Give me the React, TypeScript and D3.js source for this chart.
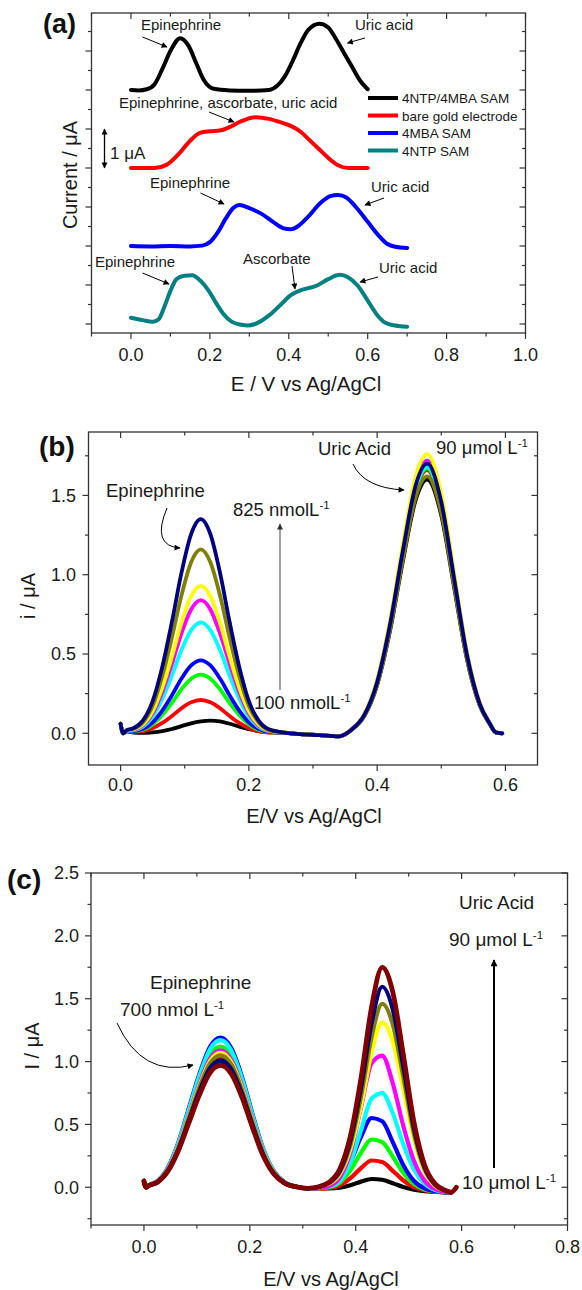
import React from 'react';
import * as d3 from 'd3';

const FONT = "'Liberation Sans', Arial, Helvetica, sans-serif";
const AXIS = '#333';
const TXT = '#1a1a1a';

// ---------------- Panel (a) data ----------------
const aLegend = ['4NTP/4MBA SAM', 'bare gold electrode', '4MBA SAM', '4NTP SAM'];
const aColors = ['#000000', '#ff0000', '#0000ff', '#008080'];
const aBlack: [number, number][] = [[0,6.0],[0.02,5.99],[0.04,6.02],[0.06,6.15],[0.08,6.55],[0.1,7.0],[0.125,7.33],[0.145,7.15],[0.165,6.7],[0.185,6.25],[0.21,6.03],[0.25,5.99],[0.3,5.98],[0.35,6.0],[0.37,6.1],[0.39,6.35],[0.41,6.75],[0.43,7.2],[0.45,7.55],[0.478,7.7],[0.5,7.6],[0.52,7.3],[0.54,6.95],[0.56,6.6],[0.58,6.25],[0.6,6.02]];
const aRed: [number, number][] = [[0,4.0],[0.06,4.0],[0.09,4.08],[0.12,4.35],[0.15,4.7],[0.175,4.9],[0.2,4.94],[0.225,4.96],[0.25,5.05],[0.28,5.2],[0.315,5.3],[0.35,5.26],[0.38,5.17],[0.405,5.08],[0.43,4.93],[0.45,4.74],[0.475,4.5],[0.5,4.26],[0.525,4.07],[0.55,4.0],[0.6,4.0]];
const aBlue: [number, number][] = [[0,2.0],[0.05,1.99],[0.1,2.0],[0.15,1.99],[0.18,2.01],[0.2,2.1],[0.22,2.35],[0.24,2.7],[0.26,2.98],[0.275,3.05],[0.3,2.97],[0.33,2.83],[0.36,2.62],[0.385,2.46],[0.405,2.43],[0.425,2.52],[0.45,2.76],[0.48,3.1],[0.505,3.28],[0.525,3.31],[0.545,3.25],[0.57,3.0],[0.6,2.62],[0.625,2.3],[0.65,2.05],[0.67,1.98],[0.7,1.95]];
const aTeal: [number, number][] = [[0,0.16],[0.03,0.1],[0.055,0.06],[0.07,0.12],[0.085,0.45],[0.1,0.85],[0.115,1.15],[0.135,1.24],[0.155,1.25],[0.175,1.12],[0.195,0.88],[0.215,0.55],[0.235,0.25],[0.255,0.06],[0.28,-0.02],[0.295,-0.04],[0.315,0.0],[0.35,0.22],[0.38,0.5],[0.405,0.74],[0.435,0.88],[0.47,0.98],[0.5,1.15],[0.53,1.26],[0.55,1.2],[0.575,0.98],[0.6,0.6],[0.625,0.22],[0.645,0.03],[0.67,-0.04],[0.7,-0.07]];
const aXMajor = [0, 0.2, 0.4, 0.6, 0.8, 1.0];
const aXMinor = [-0.1, 0.1, 0.3, 0.5, 0.7, 0.9];
const aYMajor = [0, 1, 2, 3, 4, 5, 6, 7];
const aYMinor = [0.5, 1.5, 2.5, 3.5, 4.5, 5.5, 6.5, 7.5];

// ---------------- Panel (b) data ----------------
const bX = [0,0.004,0.01,0.02,0.035,0.05,0.065,0.08,0.095,0.11,0.125,0.14,0.155,0.17,0.185,0.2,0.215,0.23,0.25,0.28,0.31,0.34,0.36,0.38,0.40,0.42,0.44,0.46,0.478,0.50,0.52,0.54,0.56,0.575,0.585,0.595];
const bBlack = [0.06,0,0.01,0.005,0.002,0.006,0.014,0.027,0.045,0.063,0.075,0.08,0.075,0.06,0.042,0.026,0.014,0.007,0.004,-0.005,-0.012,-0.02,0.021,0.108,0.304,0.644,1.082,1.47,1.6,1.373,0.92,0.466,0.174,0.061,0.004,0];
const bRed = [0.06,0,0.012,0.009,0.013,0.032,0.065,0.109,0.158,0.195,0.21,0.195,0.158,0.109,0.065,0.032,0.013,0.004,0.004,-0.005,-0.012,-0.02,0.022,0.113,0.316,0.669,1.122,1.526,1.66,1.425,0.954,0.484,0.182,0.064,0.005,0];
const bGreen = [0.06,0,0.013,0.012,0.022,0.056,0.115,0.192,0.278,0.344,0.37,0.344,0.278,0.192,0.115,0.056,0.022,0.007,0.004,-0.005,-0.012,-0.02,0.022,0.114,0.318,0.673,1.129,1.535,1.67,1.433,0.96,0.487,0.183,0.065,0.005,0];
const bBlue = [0.06,0,0.014,0.014,0.028,0.069,0.143,0.239,0.345,0.428,0.46,0.428,0.345,0.239,0.143,0.069,0.028,0.009,0.005,-0.005,-0.012,-0.02,0.023,0.116,0.324,0.685,1.15,1.562,1.7,1.459,0.978,0.496,0.186,0.066,0.006,0];
const bCyan = [0.06,0,0.016,0.019,0.042,0.105,0.217,0.364,0.525,0.651,0.7,0.651,0.525,0.364,0.217,0.105,0.042,0.014,0.006,-0.005,-0.012,-0.02,0.023,0.114,0.32,0.677,1.136,1.544,1.68,1.442,0.966,0.49,0.184,0.065,0.006,0];
const bMagenta = [0.06,0,0.017,0.022,0.05,0.126,0.26,0.437,0.63,0.781,0.84,0.781,0.63,0.437,0.26,0.126,0.05,0.017,0.006,-0.005,-0.012,-0.02,0.024,0.117,0.328,0.693,1.163,1.581,1.72,1.476,0.989,0.502,0.189,0.067,0.006,0];
const bYellow = [0.06,0,0.017,0.024,0.056,0.14,0.288,0.484,0.698,0.865,0.93,0.865,0.698,0.484,0.288,0.14,0.056,0.019,0.007,-0.005,-0.012,-0.02,0.025,0.121,0.336,0.71,1.19,1.618,1.76,1.511,1.012,0.514,0.194,0.069,0.007,0];
const bOlive = [0.06,0,0.019,0.028,0.07,0.174,0.36,0.603,0.87,1.079,1.16,1.079,0.87,0.603,0.36,0.174,0.07,0.023,0.008,-0.005,-0.012,-0.02,0.021,0.11,0.308,0.652,1.095,1.489,1.62,1.39,0.931,0.472,0.177,0.062,0.005,0];
const bNavy = [0.06,0,0.021,0.032,0.081,0.203,0.419,0.702,1.013,1.256,1.35,1.256,1.013,0.702,0.419,0.203,0.081,0.027,0.008,-0.005,-0.012,-0.02,0.023,0.116,0.324,0.685,1.15,1.562,1.7,1.459,0.978,0.496,0.186,0.066,0.006,0];
const bSeries = [bBlack, bRed, bGreen, bBlue, bCyan, bMagenta, bYellow, bOlive, bNavy];
const bColors = ['#000000', '#ff0000', '#00ff00', '#0000ff', '#00ffff', '#ff00ff', '#ffff00', '#808000', '#000080'];
const bXMajor = [0, 0.2, 0.4, 0.6];
const bXMinor = [0.1, 0.3, 0.5];
const bYMajor = [0, 0.5, 1.0, 1.5];
const bYMinor = [0.25, 0.75, 1.25, 1.75];

// ---------------- Panel (c) data ----------------
const cX = [0,0.004,0.01,0.025,0.045,0.065,0.085,0.105,0.125,0.145,0.165,0.185,0.205,0.225,0.245,0.265,0.29,0.31,0.33,0.35,0.37,0.39,0.41,0.43,0.45,0.47,0.49,0.51,0.53,0.55,0.57,0.58,0.59];
const cBlack = [0.05,0,0.015,0.04,0.13,0.3,0.53,0.76,0.94,1.0,0.93,0.74,0.49,0.26,0.11,0.035,0.002,-0.008,-0.009,-0.009,-0.003,0.016,0.045,0.066,0.06,0.032,0.002,-0.019,-0.031,-0.036,-0.04,-0.04,null];
const cRed = [0.05,0,0.015,0.041,0.134,0.309,0.546,0.783,0.968,1.03,0.958,0.762,0.505,0.268,0.113,0.036,0.002,-0.008,-0.008,-0.004,0.016,0.072,0.153,0.213,0.201,0.131,0.054,0.002,-0.024,-0.035,-0.04,-0.04,null];
const cGreen = [0.05,0,0.017,0.045,0.146,0.336,0.594,0.851,1.053,1.12,1.042,0.829,0.549,0.291,0.123,0.039,0.002,-0.008,-0.007,0.002,0.038,0.135,0.275,0.38,0.36,0.244,0.114,0.025,-0.017,-0.033,-0.04,-0.04,null];
const cBlue = [0.05,0,0.018,0.048,0.155,0.357,0.631,0.904,1.119,1.19,1.107,0.881,0.583,0.309,0.131,0.042,0.002,-0.008,-0.005,0.009,0.061,0.2,0.401,0.551,0.525,0.359,0.175,0.05,-0.009,-0.031,-0.04,-0.04,null];
const cCyan = [0.05,0,0.018,0.047,0.152,0.351,0.62,0.889,1.1,1.17,1.088,0.866,0.573,0.304,0.129,0.041,0.002,-0.008,-0.007,0.004,0.052,0.196,0.454,0.705,0.749,0.589,0.341,0.142,0.028,-0.021,-0.037,-0.04,null];
const cMagenta = [0.05,0,0.016,0.044,0.142,0.327,0.578,0.828,1.025,1.09,1.014,0.807,0.534,0.283,0.12,0.038,0.002,-0.008,-0.006,0.01,0.078,0.279,0.637,0.985,1.048,0.827,0.485,0.209,0.053,-0.015,-0.036,-0.04,null];
const cYellow = [0.05,0,0.016,0.043,0.139,0.321,0.567,0.813,1.006,1.07,0.995,0.792,0.524,0.278,0.118,0.037,0.002,-0.008,0.001,0.028,0.105,0.303,0.648,1.073,1.31,1.161,0.784,0.382,0.125,0.011,-0.029,-0.04,null];
const cOlive = [0.05,0,0.016,0.042,0.137,0.315,0.557,0.798,0.987,1.05,0.977,0.777,0.515,0.273,0.116,0.037,0.002,-0.008,0.002,0.033,0.119,0.339,0.723,1.196,1.46,1.295,0.876,0.428,0.143,0.017,-0.028,-0.04,null];
const cNavy = [0.05,0,0.015,0.04,0.131,0.303,0.535,0.768,0.949,1.01,0.939,0.747,0.495,0.263,0.111,0.035,0.002,-0.008,0.003,0.037,0.131,0.372,0.79,1.306,1.595,1.415,0.958,0.47,0.159,0.021,-0.027,-0.04,null];
const cMaroon = [0.05,0,0.015,0.039,0.126,0.291,0.514,0.737,0.912,0.97,0.902,0.718,0.475,0.252,0.107,0.034,0.002,-0.008,0.004,0.041,0.145,0.409,0.868,1.434,1.75,1.553,1.053,0.518,0.178,0.027,-0.026,-0.04,0.0];
const cSeries = [cBlack, cRed, cGreen, cBlue, cCyan, cMagenta, cYellow, cOlive, cNavy, cMaroon];
const cColors = ['#000000', '#ff0000', '#00ff00', '#0000ff', '#00ffff', '#ff00ff', '#ffff00', '#808000', '#000080', '#800000'];
const cXMajor = [0, 0.2, 0.4, 0.6, 0.8];
const cXMinor = [-0.1, 0.1, 0.3, 0.5, 0.7];
const cYMajor = [0, 0.5, 1.0, 1.5, 2.0, 2.5];
const cYMinor = [-0.25, 0.25, 0.75, 1.25, 1.75, 2.25];

type S = d3.ScaleLinear<number, number>;

const fmt1 = d3.format('.1f');

function Axes(props: {
  xs: S; ys: S; xMajor: number[]; xMinor: number[]; yMajor: number[]; yMinor: number[];
  yLabels: boolean; xLabelBase: number; yLabelRight: number; fontSize: number;
}) {
  const { xs, ys, xMajor, xMinor, yMajor, yMinor, yLabels, xLabelBase, yLabelRight, fontSize } = props;
  const [x0, x1] = xs.range();
  const [y0, y1] = ys.range();
  const M = 6, m = 3.5;
  const els: React.ReactNode[] = [];
  xMajor.forEach((v, i) => {
    const x = xs(v);
    els.push(<line key={'xb' + i} x1={x} x2={x} y1={y0} y2={y0 + M} />);
    els.push(<line key={'xt' + i} x1={x} x2={x} y1={y1} y2={y1 + M} />);
  });
  xMinor.forEach((v, i) => {
    const x = xs(v);
    els.push(<line key={'xbm' + i} x1={x} x2={x} y1={y0} y2={y0 + m} />);
    els.push(<line key={'xtm' + i} x1={x} x2={x} y1={y1} y2={y1 + m} />);
  });
  yMajor.forEach((v, i) => {
    const y = ys(v);
    els.push(<line key={'yl' + i} x1={x0} x2={x0 - M} y1={y} y2={y} />);
    els.push(<line key={'yr' + i} x1={x1} x2={x1 - M} y1={y} y2={y} />);
  });
  yMinor.forEach((v, i) => {
    const y = ys(v);
    els.push(<line key={'ylm' + i} x1={x0} x2={x0 - m} y1={y} y2={y} />);
    els.push(<line key={'yrm' + i} x1={x1} x2={x1 - m} y1={y} y2={y} />);
  });
  return (
    <g>
      <rect x={x0} y={y1} width={x1 - x0} height={y0 - y1} fill="none" stroke={AXIS} strokeWidth={1.3} />
      <g stroke={AXIS} strokeWidth={1.2}>{els}</g>
      <g fontFamily={FONT} fontSize={fontSize} fill={TXT} textAnchor="middle">
        {xMajor.map((v, i) => (
          <text key={'xl' + i} x={xs(v)} y={xLabelBase}>{fmt1(v)}</text>
        ))}
      </g>
      {yLabels && (
        <g fontFamily={FONT} fontSize={fontSize} fill={TXT} textAnchor="end">
          {yMajor.map((v, i) => (
            <text key={'yl' + i} x={yLabelRight} y={ys(v) + fontSize * 0.36}>{fmt1(v)}</text>
          ))}
        </g>
      )}
    </g>
  );
}

function mkLine(xs: S, ys: S) {
  return d3
    .line<[number, number | null]>()
    .defined((d) => d[1] != null)
    .x((d) => xs(d[0]))
    .y((d) => ys(d[1] as number))
    .curve(d3.curveMonotoneX);
}

function Sup({ children }: { children: string }) {
  return (
    <tspan dy={-7.5} fontSize={11.5}>{children}</tspan>
  );
}

export default function App() {
  // scales
  const xsA = d3.scaleLinear().domain([-0.1, 1.0]).range([91.5, 525.5]);
  const ysA = d3.scaleLinear().domain([-9 / 39, 311 / 39]).range([333, 13]);
  const xsB = d3.scaleLinear().domain([-0.05, 0.65]).range([88.5, 537.5]);
  const ysB = d3.scaleLinear().domain([-0.2, 1.9]).range([765, 432]);
  const xsC = d3.scaleLinear().domain([-0.1, 0.8]).range([91, 567.5]);
  const ysC = d3.scaleLinear().domain([-0.3, 2.5]).range([1225, 873]);

  const lineA = mkLine(xsA, ysA);
  const lineB = mkLine(xsB, ysB);
  const lineC = mkLine(xsC, ysC);

  const aSeries = [aBlack, aRed, aBlue, aTeal];

  const arrow = (key: string, x1: number, y1: number, x2: number, y2: number) => (
    <line key={key} x1={x1} y1={y1} x2={x2} y2={y2} stroke="#000" strokeWidth={1} markerEnd="url(#ah)" />
  );

  return (
    <svg width={582} height={1290} viewBox="0 0 582 1290" style={{ position: 'absolute', left: 0, top: 0, background: '#fff' }}>
      <defs>
        <marker id="ah" viewBox="0 0 10 10" refX="9" refY="5" markerWidth="7" markerHeight="6" markerUnits="userSpaceOnUse" orient="auto-start-reverse">
          <path d="M0,0 L10,5 L0,10 z" fill="#000" />
        </marker>
        <marker id="ahg" viewBox="0 0 10 10" refX="9" refY="5" markerWidth="7" markerHeight="6" markerUnits="userSpaceOnUse" orient="auto">
          <path d="M0,0 L10,5 L0,10 z" fill="#333" />
        </marker>
        <marker id="ahb" viewBox="0 0 10 10" refX="9" refY="5" markerWidth="8" markerHeight="7" markerUnits="userSpaceOnUse" orient="auto">
          <path d="M0,0 L10,5 L0,10 z" fill="#000" />
        </marker>
      </defs>
      <rect x={0} y={0} width={582} height={1290} fill="#fff" />

      {/* ================= Panel (a) ================= */}
      <Axes xs={xsA} ys={ysA} xMajor={aXMajor} xMinor={aXMinor} yMajor={aYMajor} yMinor={aYMinor}
        yLabels={false} xLabelBase={361} yLabelRight={0} fontSize={18} />
      <g fill="none" strokeWidth={4} strokeLinejoin="round" strokeLinecap="round">
        {aSeries.map((s, i) => (
          <path key={'a' + i} d={lineA(s) || ''} stroke={aColors[i]} />
        ))}
      </g>
      {/* legend */}
      <g fontFamily={FONT} fontSize={13.5} fill={TXT}>
        {aLegend.map((name, i) => {
          const y = 98 + i * 17.5;
          return (
            <g key={'lg' + i}>
              <line x1={368} x2={398} y1={y} y2={y} stroke={aColors[i]} strokeWidth={4} />
              <text x={402} y={y + 5}>{name}</text>
            </g>
          );
        })}
      </g>
      <g fontFamily={FONT} fontSize={15} fill={TXT}>
        <text x={141} y={30}>Epinephrine</text>
        <text x={355} y={30}>Uric acid</text>
        <text x={119} y={108}>Epinephrine, ascorbate, uric acid</text>
        <text x={150} y={188}>Epinephrine</text>
        <text x={371} y={192}>Uric acid</text>
        <text x={95} y={267}>Epinephrine</text>
        <text x={243} y={264}>Ascorbate</text>
        <text x={379} y={273}>Uric acid</text>
      </g>
      {arrow('a1', 142.5, 37, 167, 47)}
      {arrow('a2', 365, 38, 347.5, 43)}
      {arrow('a3', 209, 112, 234, 122)}
      {arrow('a4', 200.5, 193, 224, 204)}
      {arrow('a5', 384, 198, 365, 205)}
      {arrow('a6', 142.5, 273, 169, 284)}
      {arrow('a7', 292, 266, 295, 289)}
      {arrow('a8', 378, 277, 360, 282)}
      <line x1={104.5} y1={ysA(4)} x2={104.5} y2={ysA(5)} stroke="#000" strokeWidth={1.3} markerStart="url(#ah)" markerEnd="url(#ah)" />
      <text x={110} y={159} fontFamily={FONT} fontSize={17} fill={TXT}>1 μA</text>
      <text x={43} y={33} fontFamily={FONT} fontSize={27} fontWeight="bold" fill="#111">(a)</text>
      <text transform="translate(77,175) rotate(-90)" textAnchor="middle" fontFamily={FONT} fontSize={20} fill={TXT}>Current / μA</text>
      <text x={306} y={391} textAnchor="middle" fontFamily={FONT} fontSize={20.5} fill={TXT}>E / V vs Ag/AgCl</text>

      {/* ================= Panel (b) ================= */}
      <Axes xs={xsB} ys={ysB} xMajor={bXMajor} xMinor={bXMinor} yMajor={bYMajor} yMinor={bYMinor}
        yLabels={true} xLabelBase={791} yLabelRight={76} fontSize={18} />
      <g fill="none" strokeWidth={3.8} strokeLinejoin="round" strokeLinecap="round">
        {bSeries.map((s, i) => (
          <path key={'b' + i} d={lineB(bX.map((x, j) => [x, s[j]] as [number, number])) || ''} stroke={bColors[i]} />
        ))}
      </g>
      <g fontFamily={FONT} fontSize={18.5} fill={TXT}>
        <text x={318} y={455}>Uric Acid</text>
        <text x={436} y={454}>90 μmol L<Sup>-1</Sup></text>
        <text x={106} y={497}>Epinephrine</text>
        <text x={233} y={516}>825 nmolL<Sup>-1</Sup></text>
        <text x={254} y={709}>100 nmolL<Sup>-1</Sup></text>
      </g>
      <line x1={280} y1={690} x2={280} y2={524} stroke="#444" strokeWidth={1} markerEnd="url(#ahg)" />
      <path d="M167,508 Q151,546 180,548" fill="none" stroke="#000" strokeWidth={1} markerEnd="url(#ah)" />
      <path d="M353,464 Q364,488 404,490" fill="none" stroke="#000" strokeWidth={1} markerEnd="url(#ah)" />
      <text x={39} y={456} fontFamily={FONT} fontSize={28} fontWeight="bold" fill="#111">(b)</text>
      <text transform="translate(35,596) rotate(-90)" textAnchor="middle" fontFamily={FONT} fontSize={20} fill={TXT}>i / μA</text>
      <text x={314} y={823} textAnchor="middle" fontFamily={FONT} fontSize={20} fill={TXT}>E/V vs Ag/AgCl</text>

      {/* ================= Panel (c) ================= */}
      <Axes xs={xsC} ys={ysC} xMajor={cXMajor} xMinor={cXMinor} yMajor={cYMajor} yMinor={cYMinor}
        yLabels={true} xLabelBase={1253} yLabelRight={79} fontSize={18} />
      <g fill="none" strokeWidth={4} strokeLinejoin="round" strokeLinecap="round">
        {cSeries.map((s, i) => (
          <path key={'c' + i} d={lineC(cX.map((x, j) => [x, s[j]] as [number, number | null])) || ''} stroke={cColors[i]} strokeWidth={i === 9 ? 4.8 : 4.2} />
        ))}
      </g>
      <g fontFamily={FONT} fontSize={19} fill={TXT}>
        <text x={459} y={909}>Uric Acid</text>
        <text x={449} y={946}>90 μmol L<Sup>-1</Sup></text>
        <text x={150} y={989}>Epinephrine</text>
        <text x={120} y={1016}>700 nmol L<Sup>-1</Sup></text>
        <text x={462} y={1189}>10 μmol L<Sup>-1</Sup></text>
      </g>
      <line x1={494} y1={1168} x2={494} y2={960} stroke="#000" strokeWidth={2} markerEnd="url(#ahb)" />
      <path d="M117,1023 Q142,1078 193,1065" fill="none" stroke="#000" strokeWidth={1} markerEnd="url(#ah)" />
      <text x={7} y={889} fontFamily={FONT} fontSize={28} fontWeight="bold" fill="#111">(c)</text>
      <text transform="translate(39,1046) rotate(-90)" textAnchor="middle" fontFamily={FONT} fontSize={20} fill={TXT}>I / μA</text>
      <text x={331} y={1286} textAnchor="middle" fontFamily={FONT} fontSize={20} fill={TXT}>E/V vs Ag/AgCl</text>
    </svg>
  );
}
